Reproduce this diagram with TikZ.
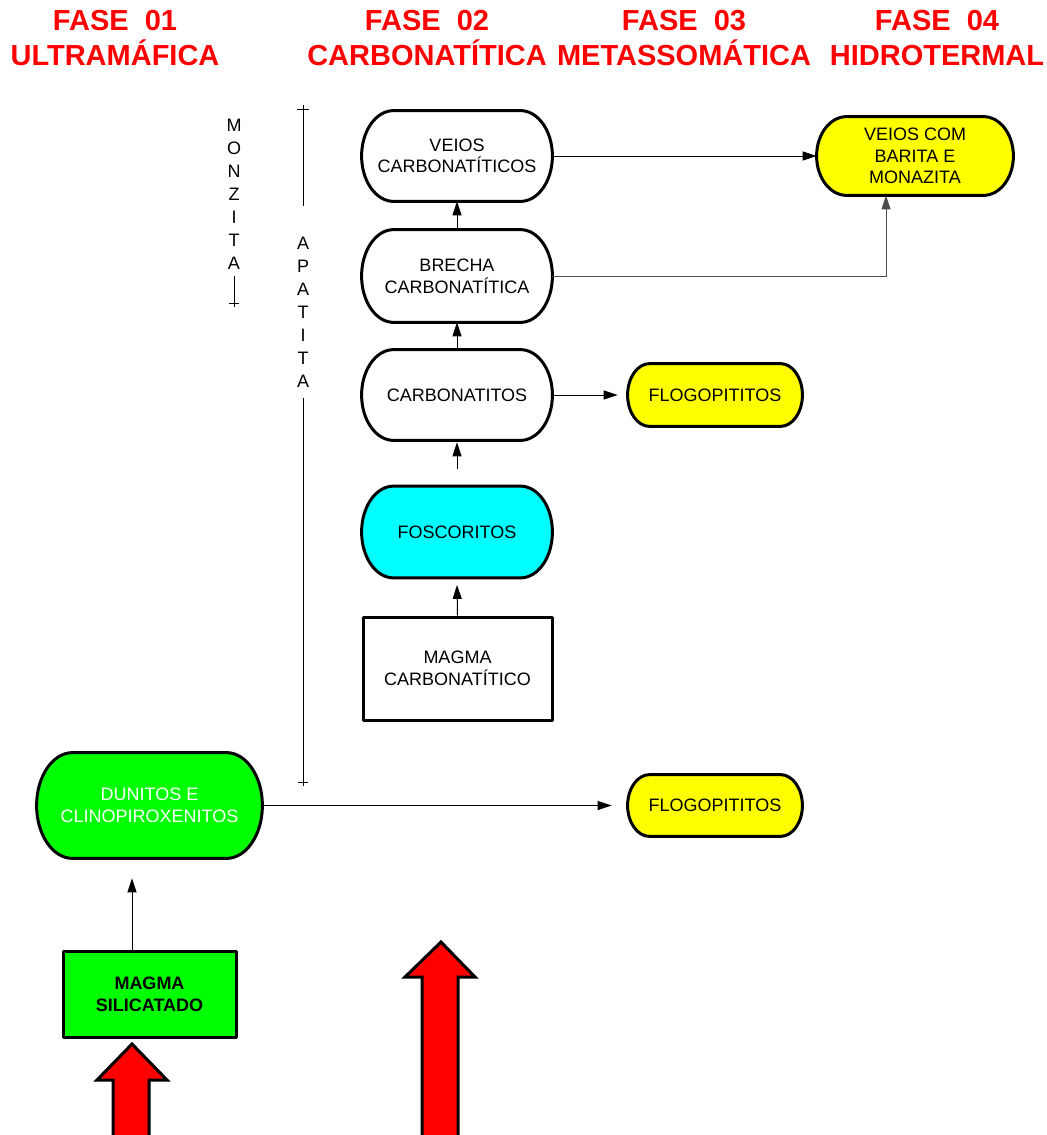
\documentclass[tikz,border=0pt]{standalone}
\usepackage{fontspec}
\setmainfont{Liberation Sans}
\usetikzlibrary{arrows.meta,calc,backgrounds}

\definecolor{fasered}{RGB}{255,0,0}
\definecolor{foscyan}{RGB}{0,255,255}
\definecolor{ultragreen}{RGB}{0,255,0}
\definecolor{flogyellow}{RGB}{255,255,0}

\tikzset{
  phase/.style={text=fasered, font=\bfseries\fontsize{14.5}{17.5}\selectfont, align=center},
  unit/.style={font=\fontsize{9}{10.8}\selectfont, align=center, inner sep=0pt},
  frame/.style={line width=1.5pt, line join=round},
  conn/.style={-{Triangle[length=7pt,width=4.5pt]}, line width=0.5pt},
  mineral/.style={font=\fontsize{9}{11.5}\selectfont, align=center, inner sep=0pt},
  bigarrow/.style={fill=fasered, draw=black, line width=1.5pt, line join=miter}
}

\begin{document}
\begin{tikzpicture}[x=0.5pt, y=-0.5pt]
  \useasboundingbox (0,0) rectangle (1047,1135);

  % Fases
  \node[phase] (fase1) at (115,38) {FASE\ \ 01\\ULTRAMÁFICA};
  \node[phase] (fase2) at (427,38) {FASE\ \ 02\\CARBONATÍTICA};
  \node[phase] (fase3) at (684,38) {FASE\ \ 03\\METASSOMÁTICA};
  \node[phase] (fase4) at (937,38) {FASE\ \ 04\\HIDROTERMAL};

  % Rochas
  \node[unit, minimum width=95pt, minimum height=45pt] (veios) at (457,156) {VEIOS\\CARBONATÍTICOS};
  \node[unit, minimum width=95pt, minimum height=46pt] (brecha) at (457,276) {BRECHA\\CARBONATÍTICA};
  \node[unit, minimum width=95pt, minimum height=45pt] (carb) at (457,395) {CARBONATITOS};
  \node[unit, minimum width=95pt, minimum height=45.5pt] (fosc) at (457,532) {FOSCORITOS};
  \node[unit, draw, frame, fill=white, minimum width=94.5pt, minimum height=51.5pt] (mcarb) at (457.5,668.5) {MAGMA\\CARBONATÍTICO};
  \node[unit, minimum width=98pt, minimum height=39pt] (vbm) at (915,156) {VEIOS COM\\BARITA E\\MONAZITA};
  \node[unit, minimum width=87pt, minimum height=31pt] (flog1) at (715,395) {FLOGOPITITOS};
  \node[unit, text=white, minimum width=112.5pt, minimum height=52.5pt] (dun) at (149.5,805.5) {DUNITOS E\\CLINOPIROXENITOS};
  \node[unit, minimum width=87pt, minimum height=30.5pt] (flog2) at (715,805.5) {FLOGOPITITOS};
  \node[unit, draw, frame, fill=ultragreen, font=\bfseries\fontsize{9}{10.8}\selectfont, minimum width=86.5pt, minimum height=43pt] (msil) at (149.5,994) {MAGMA\\SILICATADO};

  % contornos arredondados
  \begin{pgfonlayer}{background}
    \foreach \nd/\fc/\rx in {veios/white/16pt, brecha/white/16pt, carb/white/16pt, fosc/foscyan/16pt,
                             flog1/flogyellow/11pt, vbm/flogyellow/15pt, dun/ultragreen/18pt, flog2/flogyellow/11pt} {
      \draw[frame, fill=\fc] let \p1=(\nd.north west), \p2=(\nd.south east), \n1={(\y1-\y2)/2} in
        (\x1+\rx,\y1) -- (\x2-\rx,\y1) arc[start angle=90, end angle=-90, x radius=\rx, y radius=\n1]
        -- (\x1+\rx,\y2) arc[start angle=270, end angle=90, x radius=\rx, y radius=\n1] -- cycle;
    }
  \end{pgfonlayer}

  % Ligacoes
  \draw[conn] ([xshift=-8.75pt]msil.north) -- ([xshift=-8.75pt,yshift=-10pt]dun.south);
  \draw[conn] (dun.east) -- ([xshift=-8pt]flog2.west);
  \draw[conn] (mcarb.north) -- ([yshift=-3.5pt]fosc.south);
  \draw[conn] ([yshift=8.5pt]fosc.north) -- ([yshift=-1pt]carb.south);
  \draw[conn] (carb.north) -- (brecha.south);
  \draw[conn] (brecha.north) -- (veios.south);
  \draw[conn] (veios.east) -- (vbm.west);
  \draw[conn] (carb.east) -- ([xshift=-5pt]flog1.west);
  \draw[conn, draw=black!70] (brecha.east) -| ([xshift=-14.5pt]vbm.south);

  % Minerais
  \node[mineral] (monzita) at (234,194) {M\\O\\N\\Z\\I\\T\\A};
  \node[mineral] (apatita) at (303,312) {A\\P\\A\\T\\I\\T\\A};
  \coordinate (mzbot) at (234,307);
  \coordinate (aptop) at (303,105);
  \coordinate (apbot) at (303,786);
  \draw ([yshift=-3pt]monzita.south) -- (mzbot);
  \draw ([shift={(-5,-4)}]mzbot) -- ++(10,0);
  \draw (aptop) -- ([yshift=15pt]apatita.north);
  \draw ([yshift=-5pt]apatita.south) -- (apbot);
  \draw ([shift={(-6,4)}]aptop) -- ++(12,0);
  \draw ([shift={(-5,-4)}]apbot) -- ++(10,0);

  % Setas grandes
  \draw[bigarrow] (113,1140) -- (113,1080) -- (97,1080) -- (132,1044) -- (167,1080) -- (149,1080) -- (149,1140);
  \draw[bigarrow] (422,1140) -- (422,977) -- (405,977) -- (441,942) -- (475,977) -- (458,977) -- (458,1140);

\end{tikzpicture}
\end{document}
